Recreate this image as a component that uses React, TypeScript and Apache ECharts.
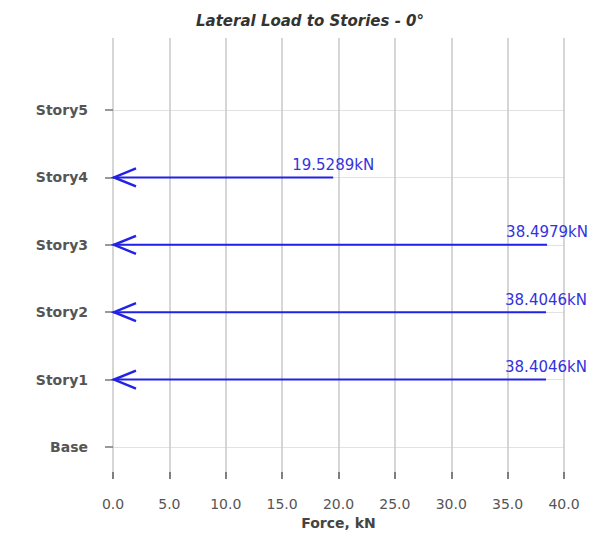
import React, { useEffect, useRef } from "react";
import * as echarts from "echarts";

const stories = ["Base", "Story1", "Story2", "Story3", "Story4", "Story5"];
const loadStories = ["Story1", "Story2", "Story3", "Story4"];
const loadValues = [38.4046, 38.4046, 38.4979, 19.5289];
const xMin = 0;
const xMax = 40;
const xStep = 5;

const BLUE = "#2222e6";
const FONT = "DejaVu Sans";

export default function App() {
  const ref = useRef<HTMLDivElement>(null);
  useEffect(() => {
    if (!ref.current) return;
    const chart = echarts.init(ref.current, null, { renderer: "svg" });
    const data = loadStories.map((s, i) => [loadValues[i], stories.indexOf(s)]);
    chart.setOption({
      animation: false,
      backgroundColor: "#ffffff",
      title: {
        text: "Lateral Load to Stories - 0°",
        left: 305,
        textAlign: "center",
        top: 8,
        textStyle: {
          fontFamily: FONT,
          fontSize: 15,
          fontWeight: "bold",
          fontStyle: "italic",
          color: "#333333",
        },
      },
      grid: [
        { left: 113, right: 46, top: 38, bottom: 60 },
        { left: 113, right: 46, top: 110, bottom: 88 },
      ],
      xAxis: [
        {
          gridIndex: 0,
          type: "value",
          min: xMin,
          max: xMax,
          interval: xStep,
          offset: 12,
          name: "Force, kN",
          nameLocation: "middle",
          nameGap: 31,
          nameTextStyle: { fontFamily: FONT, fontSize: 14, fontWeight: "bold", color: "#444" },
          axisLine: { show: false },
          axisTick: { show: true, length: 7, lineStyle: { color: "#555", width: 1.5 } },
          axisLabel: {
            margin: 13,
            fontFamily: FONT,
            fontSize: 14,
            color: "#555",
            formatter: (v: number) => v.toFixed(1),
          },
          splitLine: { show: true, lineStyle: { color: "#c8c8c8", width: 1.5 } },
        },
        {
          gridIndex: 1,
          type: "value",
          min: xMin,
          max: xMax,
          show: false,
        },
      ],
      yAxis: [
        { gridIndex: 0, type: "value", min: 0, max: 1, show: false },
        {
          gridIndex: 1,
          type: "category",
          data: stories,
          boundaryGap: false,
          offset: 5,
          axisLine: { show: false },
          axisTick: { show: true, length: 8, lineStyle: { color: "#777", width: 1.5 } },
          axisLabel: {
            margin: 20,
            fontFamily: FONT,
            fontSize: 14,
            fontWeight: "bold",
            color: "#555",
          },
          splitLine: { show: true, lineStyle: { color: "#e2e2e2", width: 1 } },
        },
      ],
      series: [
        {
          type: "custom",
          xAxisIndex: 1,
          yAxisIndex: 1,
          data,
          renderItem: (params: any, api: any) => {
            const v = api.value(0);
            const c = api.value(1);
            const p0 = api.coord([0, c]);
            const p1 = api.coord([v, c]);
            return {
              type: "group",
              children: [
                {
                  type: "line",
                  shape: { x1: p0[0], y1: p0[1], x2: p1[0], y2: p1[1] },
                  style: { stroke: BLUE, lineWidth: 2 },
                },
                {
                  type: "polyline",
                  shape: {
                    points: [
                      [p0[0] + 23, p0[1] - 9],
                      [p0[0] + 1, p0[1]],
                      [p0[0] + 23, p0[1] + 9],
                    ],
                  },
                  style: { stroke: BLUE, lineWidth: 2.5, fill: "none" },
                },
                {
                  type: "text",
                  style: {
                    text: `${v}kN`,
                    x: p1[0],
                    y: p1[1] - 5,
                    align: "center",
                    verticalAlign: "bottom",
                    fill: "#3333dd",
                    fontFamily: FONT,
                    fontSize: 15,
                  },
                },
              ],
            };
          },
        },
      ],
    });
    return () => chart.dispose();
  }, []);
  return (
    <div
      ref={ref}
      style={{ position: "fixed", left: 0, top: 0, width: 610, height: 535 }}
    />
  );
}
